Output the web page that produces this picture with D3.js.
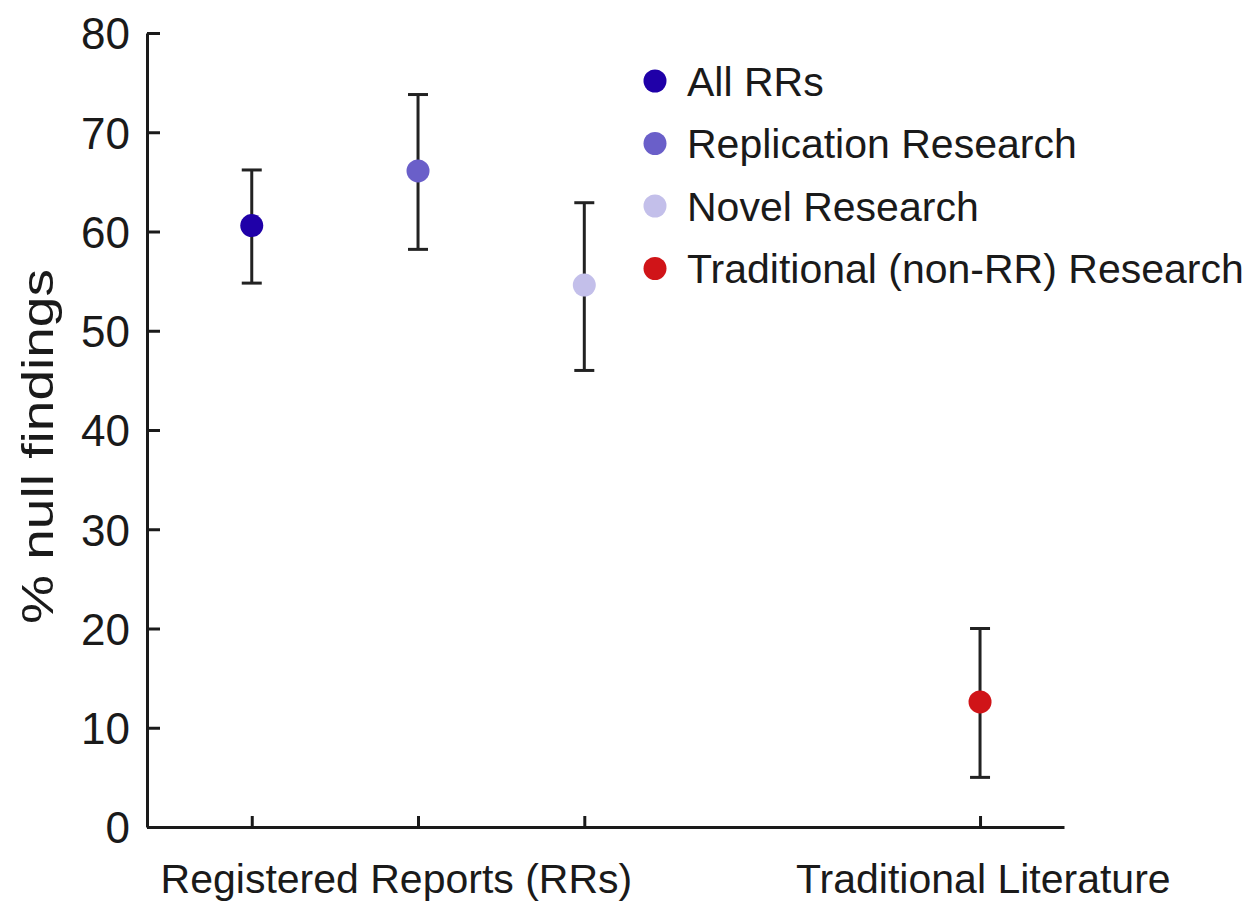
<!DOCTYPE html>
<html>
<head>
<meta charset="utf-8">
<script src="https://cdn.jsdelivr.net/npm/d3@7/dist/d3.min.js"></script>
<style>
  html, body { margin: 0; padding: 0; background: #fff; }
  svg { display: block; }
  text { font-family: "Liberation Sans", Arial, sans-serif; fill: #1a1a1a; }
</style>
</head>
<body>
<div id="chart"></div>
<script>
// ---- data ----
const series = ["All RRs", "Replication Research", "Novel Research", "Traditional (non-RR) Research"];
const slots = [1, 2, 3, 5.38];            // category placement along x
const values = [60.6, 66.1, 54.6, 12.6];
const lower = [54.8, 58.2, 46.0, 5.0];
const upper = [66.2, 73.8, 62.9, 20.0];
const colors = ["#1f00a8", "#6a5fc9", "#c3bfea", "#d01418"];
const groupLabels = ["Registered Reports (RRs)", "Traditional Literature"];
const groupLabelSlots = [1.87, 5.40];
const yTicks = [0, 10, 20, 30, 40, 50, 60, 70, 80];
const yTitle = "% null findings";

// ---- layout ----
const W = 1247, H = 904;
const svg = d3.select("#chart").append("svg").attr("width", W).attr("height", H);

const x = d3.scaleLinear().domain([0.37, 5.885]).range([147, 1064]);
const y = d3.scaleLinear().domain([0, 80]).range([827, 33]);

const axisColor = "#1a1a1a";

// y axis
const yAxis = d3.axisLeft(y).tickValues(yTicks).tickSize(-13).tickPadding(17).tickSizeOuter(0);
const gy = svg.append("g").attr("transform", `translate(${x(0.37)},0)`).call(yAxis);
gy.select(".domain").attr("stroke", axisColor).attr("stroke-width", 3);
gy.selectAll(".tick line").attr("stroke", axisColor).attr("stroke-width", 3);
gy.selectAll(".tick text").attr("font-size", 44).attr("fill", axisColor)
  .attr("font-family", "Liberation Sans, Arial, sans-serif").attr("dy", "0.36em");

// x axis
const xAxis = d3.axisBottom(x).tickValues(slots).tickSize(-11).tickFormat("").tickSizeOuter(0);
const gx = svg.append("g").attr("transform", `translate(0,${y(0)})`).call(xAxis);
gx.select(".domain").attr("stroke", axisColor).attr("stroke-width", 3);
gx.selectAll(".tick line").attr("stroke", axisColor).attr("stroke-width", 3);

// group labels
svg.selectAll(".glabel").data(groupLabels).enter().append("text")
  .attr("class", "glabel")
  .attr("x", (d, i) => x(groupLabelSlots[i]))
  .attr("y", 893)
  .attr("text-anchor", "middle")
  .attr("font-size", 41)
  .text(d => d);

// y title
svg.append("text")
  .attr("transform", `translate(53,${(268 + 625) / 2}) rotate(-90)`)
  .attr("text-anchor", "middle")
  .attr("font-size", 44)
  .attr("textLength", 355)
  .attr("lengthAdjust", "spacingAndGlyphs")
  .text(yTitle);

// error bars
const data = series.map((s, i) => ({ s, slot: slots[i], v: values[i], lo: lower[i], hi: upper[i], c: colors[i] }));
const eb = svg.append("g");
eb.selectAll(".stem").data(data).enter().append("line")
  .attr("x1", d => x(d.slot)).attr("x2", d => x(d.slot))
  .attr("y1", d => y(d.lo)).attr("y2", d => y(d.hi))
  .attr("stroke", "#222").attr("stroke-width", 3);
eb.selectAll(".capHi").data(data).enter().append("line")
  .attr("x1", d => x(d.slot) - 10).attr("x2", d => x(d.slot) + 10)
  .attr("y1", d => y(d.hi)).attr("y2", d => y(d.hi))
  .attr("stroke", "#222").attr("stroke-width", 3);
eb.selectAll(".capLo").data(data).enter().append("line")
  .attr("x1", d => x(d.slot) - 10).attr("x2", d => x(d.slot) + 10)
  .attr("y1", d => y(d.lo)).attr("y2", d => y(d.lo))
  .attr("stroke", "#222").attr("stroke-width", 3);

// points
svg.append("g").selectAll("circle").data(data).enter().append("circle")
  .attr("cx", d => x(d.slot)).attr("cy", d => y(d.v)).attr("r", 11.5)
  .attr("fill", d => d.c);

// legend
const lg = svg.append("g").attr("transform", "translate(655,81)");
const rows = lg.selectAll("g").data(data).enter().append("g")
  .attr("transform", (d, i) => `translate(0,${i * 62.5})`);
rows.append("circle").attr("r", 11.5).attr("fill", d => d.c);
rows.append("text").attr("x", 32).attr("dy", "0.36em").attr("font-size", 41).text(d => d.s);
</script>
</body>
</html>
